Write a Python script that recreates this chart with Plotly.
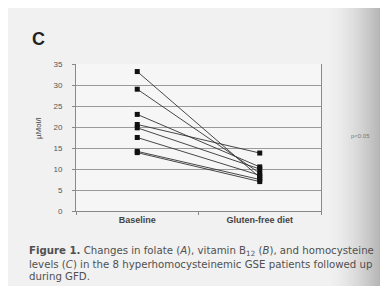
import plotly.graph_objects as go

categories = ["Baseline", "Gluten-free diet"]
baseline = [33.2, 29.0, 23.0, 20.6, 19.8, 17.5, 14.2, 13.9]
gfd = [8.0, 9.0, 10.5, 13.8, 10.0, 8.5, 7.5, 7.0]
yticks = [0, 5, 10, 15, 20, 25, 30, 35]

W, H = 388, 286
L, R, T, B = 68, 75, 56, 83
pw, ph = W - L - R, H - T - B


def px(x):
    return (x - L) / pw


def py(y):
    return (H - B - y) / ph


fig = go.Figure()
for b, g in zip(baseline, gfd):
    fig.add_trace(go.Scatter(
        x=categories, y=[b, g], mode="lines+markers",
        line=dict(color="#333333", width=0.9),
        marker=dict(symbol="square", size=5, color="#111111"),
        showlegend=False, hoverinfo="skip"))

shapes = []
# scanned page darkening towards the right edge
n = 34
fx0, fx1 = 318, 389
for i in range(n):
    a = fx0 + (fx1 - fx0) * i / n
    c = fx0 + (fx1 - fx0) * (i + 1) / n
    t = (i + 1) / n
    v = int(242 - 95 * t ** 1.7)
    shapes.append(dict(type="rect", xref="paper", yref="paper",
                       x0=px(a), x1=px(c + 0.6), y0=py(H + 2), y1=py(-2),
                       fillcolor=f"rgb({v},{v},{v})", line=dict(width=0), layer="below"))

cap_font = dict(size=10.2, color="#505050", family="DejaVu Sans, sans-serif")

fig.update_layout(
    width=W, height=H,
    margin=dict(l=L, r=R, t=T, b=B),
    paper_bgcolor="#f1f1f1", plot_bgcolor="#f6f6f6",
    font=dict(family="Liberation Sans, Arial, sans-serif", color="#555555"),
    shapes=shapes,
    xaxis=dict(type="category", range=[-0.5, 1.5], showgrid=False,
               showline=True, linecolor="#888888", linewidth=1,
               ticks="outside", tickson="boundaries", ticklen=3, tickcolor="#888888",
               tickfont=dict(size=9, color="#444444", family="Liberation Sans, Arial, sans-serif"),
               tickprefix="<b>", ticksuffix="</b>"),
    yaxis=dict(range=[0, 35], tickvals=yticks, showgrid=True, gridcolor="#9a9a9a", gridwidth=1,
               showline=True, linecolor="#8a8a8a", linewidth=1, mirror=True,
               ticks="outside", ticklen=3, tickcolor="#888888", ticklabelstandoff=8,
               tickfont=dict(size=8, color="#555555"), zeroline=False),
    annotations=[
        dict(text="<b>C</b>", xref="paper", yref="paper", x=px(22), y=py(31),
             xanchor="left", yanchor="middle", showarrow=False,
             font=dict(size=18, color="#222222")),
        dict(text="µMol/l", xref="paper", yref="paper", x=px(30), y=py(120),
             xanchor="center", yanchor="middle", textangle=-90, showarrow=False,
             font=dict(size=8, color="#444444")),
        dict(text="p<0.05", xref="paper", yref="paper", x=px(341), y=py(128),
             xanchor="left", yanchor="middle", showarrow=False,
             font=dict(size=6, color="#777777")),
        dict(text="<b>Figure 1.</b> Changes in folate (<i>A</i>), vitamin B<sub>12</sub> (<i>B</i>), and homocysteine",
             xref="paper", yref="paper", x=px(19), y=py(243), xanchor="left", yanchor="middle",
             showarrow=False, font=cap_font),
        dict(text="levels (<i>C</i>) in the 8 hyperhomocysteinemic GSE patients followed up",
             xref="paper", yref="paper", x=px(19), y=py(256), xanchor="left", yanchor="middle",
             showarrow=False, font=cap_font),
        dict(text="during GFD.",
             xref="paper", yref="paper", x=px(19), y=py(268), xanchor="left", yanchor="middle",
             showarrow=False, font=cap_font),
    ],
)

fig.write_html("out.html")
